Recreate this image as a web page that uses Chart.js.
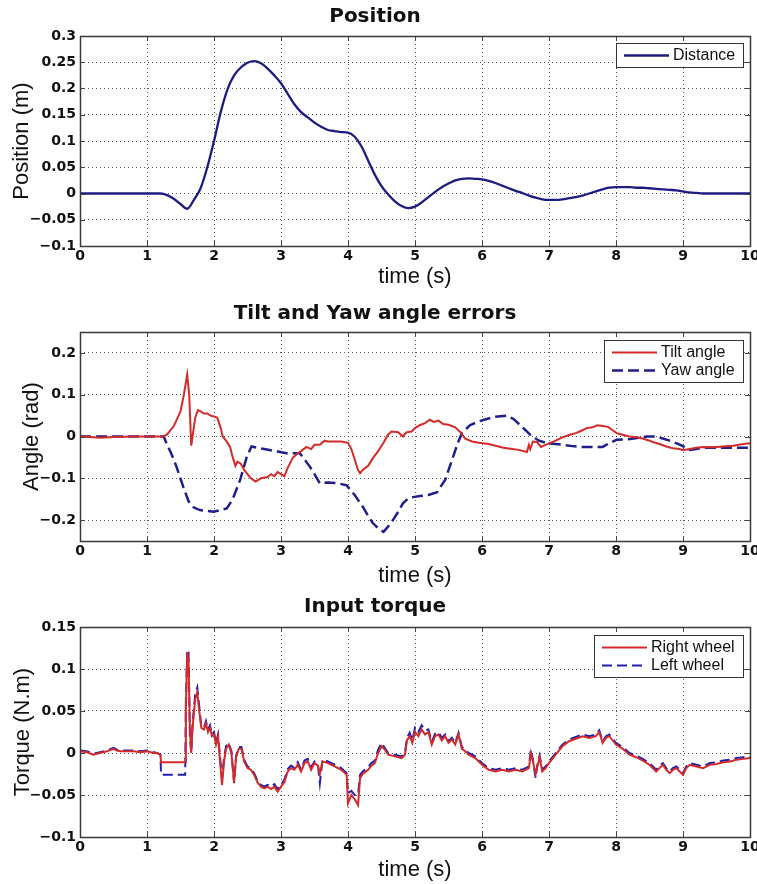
<!DOCTYPE html>
<html>
<head>
<meta charset="utf-8">
<script src="https://cdn.jsdelivr.net/npm/chart.js@4.4.1/dist/chart.umd.min.js"></script>
<style>
  html, body { margin: 0; padding: 0; background: #fff; }
  #wrap { position: relative; width: 757px; height: 884px; background: #fff; overflow: hidden; }
  canvas { position: absolute; left: 0; }
</style>
</head>
<body>
<div id="wrap">
  <canvas id="c1" width="757" height="295" style="top:0px"></canvas>
  <canvas id="c2" width="757" height="295" style="top:295px"></canvas>
  <canvas id="c3" width="757" height="294" style="top:590px"></canvas>
</div>
<script>
// ---------------- DATA ----------------
const xTicks = [0, 1, 2, 3, 4, 5, 6, 7, 8, 9, 10];
const yTicksPosition = [-0.1, -0.05, 0, 0.05, 0.1, 0.15, 0.2, 0.25, 0.3];
const yTicksAngle = [-0.2, -0.1, 0, 0.1, 0.2];
const yTicksTorque = [-0.1, -0.05, 0, 0.05, 0.1, 0.15];

// Position (Distance)
const timePos = [0,0.2,0.4,0.6,0.8,1.0,1.2,1.3,1.4,1.5,1.6,1.7,1.8,1.9,2.0,2.1,2.2,2.3,2.4,2.5,2.6,2.7,2.8,2.9,3.0,
  3.1,3.2,3.3,3.4,3.5,3.6,3.7,3.8,3.9,4.0,4.1,4.2,4.3,4.4,4.5,4.6,4.7,4.8,4.9,5.0,5.1,5.2,5.3,5.4,5.5,5.6,5.7,5.8,5.9,6.0,
  6.1,6.2,6.3,6.4,6.5,6.6,6.7,6.8,6.9,7.0,7.1,7.2,7.3,7.4,7.5,7.6,7.7,7.8,7.9,8.0,8.1,8.2,8.3,8.4,8.5,8.6,8.7,8.8,8.9,9.0,
  9.1,9.2,9.3,9.5,9.7,10.0];
const distance = [0,0,0,0,0,0,0,-0.003,-0.01,-0.02,-0.029,-0.012,0.01,0.05,0.10,0.155,0.198,0.225,0.24,0.249,0.252,0.248,0.238,0.225,0.21,
  0.19,0.17,0.155,0.145,0.135,0.127,0.121,0.119,0.117,0.116,0.108,0.09,0.063,0.036,0.014,-0.002,-0.015,-0.024,-0.028,-0.025,-0.017,-0.007,0.003,0.012,0.019,0.025,0.028,0.029,0.028,0.027,
  0.024,0.02,0.015,0.01,0.005,0.001,-0.004,-0.008,-0.011,-0.012,-0.012,-0.011,-0.009,-0.007,-0.004,0.0,0.004,0.008,0.011,0.012,0.012,0.012,0.011,0.011,0.01,0.009,0.008,0.007,0.006,0.004,
  0.002,0.001,0,0,0,0];

// Tilt angle
const timeTilt = [0,0.2,0.3,0.5,0.8,1.0,1.25,1.3,1.4,1.5,1.55,1.6,1.63,1.66,1.68,1.72,1.76,1.8,1.85,1.9,1.95,2.0,2.05,2.1,2.13,2.18,2.24,2.28,2.32,2.35,2.4,2.45,2.5,2.55,2.62,2.7,2.8,2.85,2.9,2.95,3.0,3.05,3.1,3.18,3.25,3.3,3.38,3.45,3.5,3.58,3.65,3.7,3.8,3.9,4.0,4.05,4.1,4.15,4.18,4.22,4.3,4.38,4.45,4.53,4.6,4.65,4.75,4.82,4.87,4.95,5.0,5.07,5.15,5.22,5.28,5.35,5.42,5.5,5.6,5.68,5.75,5.85,5.95,6.1,6.2,6.32,6.45,6.55,6.67,6.7,6.72,6.76,6.82,6.88,6.95,7.01,7.1,7.2,7.31,7.4,7.5,7.56,7.65,7.72,7.8,7.88,7.95,8.01,8.1,8.2,8.31,8.4,8.5,8.55,8.65,8.75,8.85,8.95,9.0,9.1,9.2,9.3,9.45,9.6,9.75,9.9,10.0];
const tilt = [0,-0.002,-0.003,-0.001,0,0,0,0.005,0.025,0.06,0.1,0.148,0.1,-0.022,0.0,0.045,0.063,0.06,0.055,0.055,0.05,0.048,0.045,0.02,0.0,-0.01,-0.025,-0.05,-0.07,-0.06,-0.065,-0.08,-0.09,-0.1,-0.108,-0.1,-0.097,-0.09,-0.095,-0.085,-0.09,-0.095,-0.075,-0.05,-0.04,-0.035,-0.025,-0.03,-0.02,-0.02,-0.01,-0.012,-0.012,-0.012,-0.015,-0.03,-0.055,-0.08,-0.088,-0.08,-0.07,-0.05,-0.035,-0.015,0.005,0.012,0.01,0.0,0.01,0.012,0.02,0.027,0.032,0.04,0.035,0.038,0.03,0.028,0.022,0.01,-0.005,-0.012,-0.015,-0.018,-0.022,-0.027,-0.03,-0.032,-0.037,-0.02,-0.03,-0.012,-0.013,-0.025,-0.02,-0.016,-0.01,-0.002,0.004,0.008,0.015,0.02,0.022,0.027,0.025,0.023,0.015,0.008,0.004,0.0,-0.002,-0.005,-0.01,-0.013,-0.018,-0.024,-0.028,-0.03,-0.033,-0.03,-0.027,-0.025,-0.026,-0.024,-0.022,-0.018,-0.016];

// Yaw angle
const timeYaw = [0,1.25,1.29,1.36,1.44,1.54,1.62,1.7,1.79,1.9,1.99,2.1,2.19,2.24,2.29,2.39,2.49,2.56,2.65,2.79,2.95,3.08,3.28,3.35,3.43,3.5,3.58,3.7,3.85,3.98,4.1,4.22,4.3,4.37,4.45,4.53,4.6,4.67,4.75,4.82,4.9,4.97,5.1,5.2,5.33,5.45,5.57,5.64,5.7,5.82,5.95,6.07,6.2,6.37,6.47,6.57,6.65,6.72,6.85,6.97,7.1,7.21,7.35,7.46,7.6,7.8,7.9,8.01,8.21,8.35,8.46,8.56,8.66,8.8,8.96,9.1,9.2,9.3,9.5,9.7,10.0];
const yaw = [0,0,-0.016,-0.04,-0.072,-0.12,-0.155,-0.17,-0.176,-0.178,-0.18,-0.176,-0.172,-0.16,-0.145,-0.104,-0.048,-0.024,-0.027,-0.031,-0.036,-0.04,-0.04,-0.055,-0.072,-0.09,-0.112,-0.11,-0.112,-0.117,-0.14,-0.168,-0.19,-0.207,-0.22,-0.228,-0.215,-0.2,-0.18,-0.16,-0.148,-0.145,-0.142,-0.14,-0.133,-0.104,-0.048,-0.015,0.008,0.027,0.036,0.042,0.047,0.05,0.042,0.027,0.015,0.004,-0.01,-0.016,-0.018,-0.02,-0.023,-0.025,-0.025,-0.025,-0.016,-0.008,-0.006,-0.003,0.0,0.0,-0.003,-0.01,-0.02,-0.032,-0.03,-0.027,-0.027,-0.027,-0.027];

// Input torque
const timeTorque = [0,0.1,0.2,0.25,0.3,0.4,0.5,0.55,0.6,0.7,0.8,0.9,1.0,1.1,1.15,1.2,1.21,1.4,1.57,1.58,1.6,1.62,1.64,1.66,1.68,1.72,1.75,1.78,1.81,1.85,1.88,1.91,1.94,1.97,2.0,2.03,2.06,2.09,2.12,2.15,2.18,2.22,2.26,2.3,2.33,2.37,2.41,2.45,2.5,2.55,2.6,2.65,2.7,2.75,2.8,2.85,2.9,2.95,3.0,3.05,3.1,3.15,3.2,3.25,3.3,3.35,3.4,3.45,3.5,3.55,3.58,3.62,3.7,3.8,3.9,3.98,4.0,4.05,4.1,4.15,4.18,4.22,4.3,4.35,4.4,4.45,4.5,4.55,4.6,4.7,4.8,4.85,4.88,4.92,4.96,5.0,5.05,5.1,5.15,5.2,5.25,5.3,5.35,5.4,5.45,5.5,5.55,5.6,5.65,5.7,5.75,5.8,5.9,6.0,6.1,6.2,6.3,6.4,6.5,6.6,6.7,6.73,6.76,6.8,6.83,6.86,6.9,6.95,7.0,7.1,7.2,7.3,7.4,7.5,7.6,7.7,7.75,7.8,7.85,7.9,8.0,8.1,8.2,8.3,8.4,8.5,8.6,8.65,8.7,8.75,8.8,8.85,8.9,8.95,9.0,9.05,9.1,9.2,9.3,9.4,9.5,9.6,9.7,9.8,9.9,10.0];
const rightWheel = [0.002,0.001,-0.002,-0.001,0.0,0.002,0.005,0.003,0.002,0.002,0.002,0.001,0.002,0.0,0.0,-0.002,-0.011,-0.011,-0.011,0.05,0.12,0.11,0.03,0.0,0.03,0.065,0.072,0.05,0.03,0.028,0.035,0.025,0.03,0.02,0.022,0.01,0.02,-0.01,-0.038,-0.01,0.005,0.01,0.0,-0.035,-0.005,0.005,0.005,-0.01,-0.018,-0.02,-0.026,-0.035,-0.04,-0.042,-0.04,-0.043,-0.04,-0.046,-0.04,-0.035,-0.022,-0.018,-0.02,-0.014,-0.022,-0.012,-0.01,-0.02,-0.012,-0.015,-0.025,-0.01,-0.012,-0.016,-0.02,-0.026,-0.06,-0.05,-0.055,-0.062,-0.03,-0.025,-0.02,-0.015,-0.012,0.0,0.008,0.004,-0.002,-0.004,-0.006,-0.002,0.015,0.02,0.012,0.025,0.02,0.028,0.022,0.025,0.01,0.02,0.022,0.015,0.02,0.012,0.016,0.01,0.022,0.005,0.002,-0.002,-0.006,-0.014,-0.02,-0.022,-0.02,-0.022,-0.02,-0.022,-0.018,0.0,-0.01,-0.025,-0.015,-0.005,-0.022,-0.018,-0.012,-0.002,0.008,0.014,0.017,0.02,0.018,0.02,0.025,0.012,0.018,0.02,0.01,0.005,-0.002,-0.005,-0.009,-0.014,-0.022,-0.018,-0.014,-0.02,-0.024,-0.02,-0.018,-0.022,-0.026,-0.018,-0.014,-0.016,-0.018,-0.014,-0.013,-0.011,-0.01,-0.008,-0.007,-0.006];
const leftWheel = [0.003,0.002,-0.001,0.0,0.001,0.003,0.006,0.004,0.003,0.003,0.003,0.002,0.003,0.001,0.0,-0.002,-0.026,-0.026,-0.026,0.06,0.123,0.12,0.02,0.0,0.035,0.07,0.078,0.055,0.032,0.03,0.038,0.028,0.033,0.022,0.025,0.012,0.022,-0.005,-0.03,-0.006,0.008,0.012,0.002,-0.036,-0.003,0.007,0.007,-0.008,-0.016,-0.018,-0.024,-0.033,-0.038,-0.04,-0.038,-0.04,-0.037,-0.043,-0.038,-0.032,-0.019,-0.015,-0.018,-0.011,-0.02,-0.009,-0.007,-0.017,-0.01,-0.013,-0.036,-0.008,-0.01,-0.014,-0.018,-0.024,-0.048,-0.045,-0.05,-0.05,-0.026,-0.022,-0.017,-0.012,-0.009,0.004,0.012,0.006,0.0,-0.002,-0.004,0.0,0.018,0.024,0.015,0.03,0.025,0.033,0.027,0.028,0.013,0.023,0.025,0.018,0.022,0.014,0.018,0.012,0.024,0.007,0.004,0.0,-0.004,-0.012,-0.018,-0.02,-0.018,-0.02,-0.018,-0.02,-0.016,0.004,-0.008,-0.03,-0.012,-0.003,-0.02,-0.016,-0.01,0.0,0.01,0.016,0.019,0.022,0.02,0.022,0.027,0.014,0.02,0.022,0.012,0.007,0.0,-0.003,-0.007,-0.012,-0.02,-0.015,-0.012,-0.018,-0.022,-0.018,-0.016,-0.02,-0.024,-0.016,-0.012,-0.014,-0.016,-0.012,-0.011,-0.009,-0.008,-0.006,-0.005,-0.005];

// ---------------- HELPERS ----------------
const pts = (ts, vs) => ts.map((t, i) => ({ x: t, y: vs[i] }));
const fmt = v => {
  const s = String(parseFloat(Number(v).toFixed(3)));
  return s.replace('-', '\u2212');
};
const TICK_FONT = { family: 'DejaVu Sans', size: 14, weight: 'bold' };
const AXIS_TITLE_FONT = { family: 'Liberation Sans', size: 22, weight: 'normal' };
const TITLE_FONT = { family: 'DejaVu Sans', size: 20, weight: 'bold' };

// draws the axes box and inward tick marks (MATLAB style)
const framePlugin = {
  id: 'frame',
  afterDatasetsDraw(chart) {
    const { ctx, chartArea: a, scales } = chart;
    ctx.save();
    ctx.strokeStyle = '#444';
    ctx.lineWidth = 1;
    ctx.setLineDash([]);
    const L = 5;
    ctx.beginPath();
    scales.x.ticks.forEach(t => {
      const px = Math.round(scales.x.getPixelForValue(t.value)) + 0.5;
      ctx.moveTo(px, a.bottom); ctx.lineTo(px, a.bottom - L);
      ctx.moveTo(px, a.top); ctx.lineTo(px, a.top + L);
    });
    scales.y.ticks.forEach(t => {
      const py = Math.round(scales.y.getPixelForValue(t.value)) + 0.5;
      ctx.moveTo(a.left, py); ctx.lineTo(a.left + L, py);
      ctx.moveTo(a.right, py); ctx.lineTo(a.right - L, py);
    });
    ctx.stroke();
    ctx.lineWidth = 1.5;
    ctx.strokeStyle = '#3a3a3a';
    ctx.strokeRect(Math.round(a.left) + 0.5, Math.round(a.top) + 0.5, Math.round(a.right - a.left), Math.round(a.bottom - a.top));
    ctx.restore();
  }
};

// boxed legend inside the top-right corner of the plot area
const boxLegendPlugin = {
  id: 'boxLegend',
  afterDraw(chart, args, o) {
    const { ctx, chartArea: a } = chart;
    const ds = chart.data.datasets;
    ctx.save();
    ctx.font = o.font;
    const tw = Math.max(...ds.map(d => ctx.measureText(d.label).width));
    const w = Math.round(o.padL + o.lineLen + o.gap + tw + o.padR);
    const h = ds.length * o.rowH + o.padV * 2;
    const x0 = Math.round(a.right - o.right - w), y0 = Math.round(a.top + o.top);
    ctx.fillStyle = '#fff';
    ctx.fillRect(x0, y0, w, h);
    ctx.strokeStyle = '#333';
    ctx.lineWidth = 1;
    ctx.strokeRect(x0 + 0.5, y0 + 0.5, w, h);
    ds.forEach((d, i) => {
      const cy = Math.round(y0 + o.padV + o.rowH * (i + 0.5)) + 0.5;
      ctx.beginPath();
      ctx.setLineDash(d.borderDash || []);
      ctx.strokeStyle = d.borderColor;
      ctx.lineWidth = d.borderWidth;
      ctx.moveTo(x0 + o.padL, cy);
      ctx.lineTo(x0 + o.padL + o.lineLen, cy);
      ctx.stroke();
      ctx.setLineDash([]);
      ctx.fillStyle = '#111';
      ctx.textBaseline = 'middle';
      ctx.textAlign = 'left';
      ctx.fillText(d.label, x0 + o.padL + o.lineLen + o.gap, cy);
    });
    ctx.restore();
  }
};
Chart.register(framePlugin, boxLegendPlugin);

function makeChart(id, cfg) {
  return new Chart(document.getElementById(id), {
    type: 'line',
    data: { datasets: cfg.datasets },
    options: {
      responsive: false,
      animation: false,
      devicePixelRatio: 1,
      layout: { padding: { left: 0, right: 7, top: 0, bottom: 0 } },
      elements: { point: { radius: 0 }, line: { tension: 0 } },
      plugins: {
        legend: { display: false },
        tooltip: { enabled: false },
        title: {
          display: true, text: cfg.title, color: '#111', font: TITLE_FONT,
          padding: cfg.titlePad
        },
        boxLegend: {
          font: '16px "Liberation Sans"', padL: 8, lineLen: 45, gap: 4, padR: 8,
          rowH: 18, padV: 3, right: 7, top: cfg.legendTop
        }
      },
      scales: {
        x: {
          type: 'linear', min: 0, max: 10,
          afterBuildTicks: s => { s.ticks = xTicks.map(v => ({ value: v })); },
          afterFit: s => { s.height = cfg.xAxisH; s.paddingLeft = 0; s.paddingRight = 0; },
          ticks: { font: TICK_FONT, color: '#111', padding: 2, maxRotation: 0, autoSkip: false, callback: v => fmt(v) },
          grid: { color: 'rgba(0,0,0,0.65)', lineWidth: 1, drawTicks: false },
          border: { display: false, dash: [1, 3] },
          title: { display: true, text: 'time (s)', color: '#111', font: AXIS_TITLE_FONT, padding: { top: 0, bottom: cfg.xTitlePad } }
        },
        y: {
          type: 'linear', min: cfg.yMin, max: cfg.yMax,
          afterBuildTicks: s => { s.ticks = cfg.yTicks.map(v => ({ value: v })); },
          afterFit: s => { s.width = 80; },
          ticks: { font: TICK_FONT, color: '#111', padding: 4, autoSkip: false, callback: v => fmt(v) },
          grid: { color: 'rgba(0,0,0,0.65)', lineWidth: 1, drawTicks: false },
          border: { display: false, dash: [1, 3] },
          title: { display: true, text: cfg.yTitle, color: '#111', font: AXIS_TITLE_FONT, padding: { top: cfg.yTitlePad, bottom: 0 } }
        }
      }
    }
  });
}

makeChart('c1', {
  title: 'Position',
  titlePad: { top: 5, bottom: 7 },
  yTitle: 'Position (m)', yTitlePad: 9,
  yMin: -0.1, yMax: 0.3, yTicks: yTicksPosition,
  xAxisH: 49, xTitlePad: 5, legendTop: 7,
  datasets: [
    { label: 'Distance', data: pts(timePos, distance), borderColor: '#1c1c80', borderWidth: 2.3, cubicInterpolationMode: 'monotone' }
  ]
});

makeChart('c2', {
  title: 'Tilt and Yaw angle errors',
  titlePad: { top: 6.5, bottom: 6.5 },
  yTitle: 'Angle (rad)', yTitlePad: 19,
  yMin: -0.25, yMax: 0.25, yTicks: yTicksAngle,
  xAxisH: 49, xTitlePad: 1, legendTop: 8,
  datasets: [
    { label: 'Tilt angle', data: pts(timeTilt, tilt), borderColor: '#d42a2a', borderWidth: 2 },
    { label: 'Yaw angle', data: pts(timeYaw, yaw), borderColor: '#1e1e8c', borderWidth: 2.5, borderDash: [11, 5] }
  ]
});

makeChart('c3', {
  title: 'Input torque',
  titlePad: { top: 5, bottom: 8 },
  yTitle: 'Torque (N.m)', yTitlePad: 10,
  yMin: -0.1, yMax: 0.15, yTicks: yTicksTorque,
  xAxisH: 47, xTitlePad: 1, legendTop: 8,
  datasets: [
    { label: 'Right wheel', data: pts(timeTorque, rightWheel), borderColor: '#d42a2a', borderWidth: 2 },
    { label: 'Left wheel', data: pts(timeTorque, leftWheel), borderColor: '#2020b0', borderWidth: 2, borderDash: [10, 5] }
  ]
});
</script>
</body>
</html>
